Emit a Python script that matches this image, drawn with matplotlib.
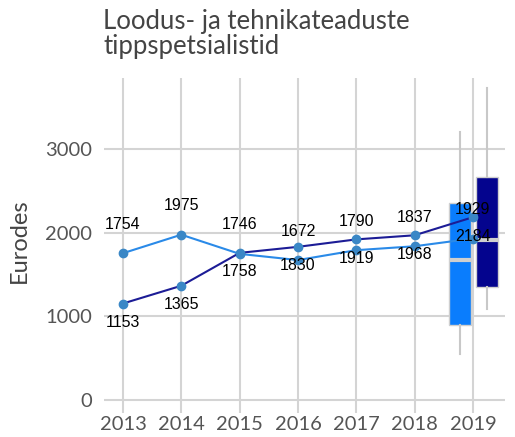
import numpy as np
import matplotlib.pyplot as plt

years = [2013, 2014, 2015, 2016, 2017, 2018, 2019]
light_vals = [1754, 1975, 1746, 1672, 1790, 1837, 1929]
dark_vals = [1153, 1365, 1758, 1830, 1919, 1968, 2184]

# 2019 box plots: q1, median, q3, whisker low, whisker high
light_box = [896, 1673, 2354, 550, 3200]
dark_box = [1350, 1912, 2665, 1090, 3730]

c_light = '#2a8ae8'
c_dark = '#1c1c96'
c_marker = '#3a87c6'
c_box_light = '#0a7dfd'
c_box_dark = '#04048e'
c_grid = '#d4d4d4'

fig = plt.figure(figsize=(5.15, 4.37), dpi=100)
ax = fig.add_axes([104 / 515, 24 / 437, 401 / 515, 335 / 437])

ax.set_xlim(2012.675, 2019.55)
ax.set_ylim(-155, 3847)

for s in ax.spines.values():
    s.set_visible(False)
ax.set_xticks(years)
ax.set_yticks([0, 1000, 2000, 3000])
ax.grid(True, color=c_grid, linewidth=1.5)
ax.set_axisbelow(True)
ax.tick_params(length=0, labelsize=14.5, labelcolor='#555555')
ax.tick_params(axis='y', pad=8.5)
ax.tick_params(axis='x', pad=2)
for lab in ax.get_xticklabels() + ax.get_yticklabels():
    lab.set_fontfamily('Lato')

def stats(v):
    return dict(q1=v[0], med=v[1], q3=v[2], whislo=v[3], whishi=v[4], fliers=[])

for vals, pos, col in [(light_box, 2019 - 0.22, c_box_light), (dark_box, 2019 + 0.24, c_box_dark)]:
    ax.bxp([stats(vals)], positions=[pos], widths=0.39, patch_artist=True,
           showcaps=False, showfliers=False, manage_ticks=False,
           boxprops=dict(facecolor=col, edgecolor='#cfcfcf', linewidth=1),
           medianprops=dict(color='#cfcfcf', linewidth=3),
           whiskerprops=dict(color='#c8c8c8', linewidth=1.5))

ax.plot(years, light_vals, color=c_light, linewidth=1.5, marker='o',
        markersize=6, markerfacecolor=c_marker, markeredgecolor=c_marker, zorder=4)
ax.plot(years, dark_vals, color=c_dark, linewidth=1.5, marker='o',
        markersize=6, markerfacecolor=c_marker, markeredgecolor=c_marker, zorder=4)

for x, v in zip(years, light_vals):
    ax.annotate(str(v), (x, v), xytext=(0, 29), textcoords='offset pixels',
                ha='center', va='center', fontsize=11.5, family='Liberation Sans',
                color='black', zorder=6)
for x, v in zip(years, dark_vals):
    ax.annotate(str(v), (x, v), xytext=(0, -19), textcoords='offset pixels',
                ha='center', va='center', fontsize=11.5, family='Liberation Sans',
                color='black', zorder=6)

ax.set_ylabel('Eurodes', fontsize=17, color='#444444', family='Lato')
ax.yaxis.set_label_coords(-0.185, 0.515)

fig.text(103 / 515, 1 - 9 / 437, 'Loodus- ja tehnikateaduste\ntippspetsialistid',
         ha='left', va='top', fontsize=18.5, color='#444444', family='Lato',
         linespacing=1.0)

fig.savefig('out.png', dpi=100)
